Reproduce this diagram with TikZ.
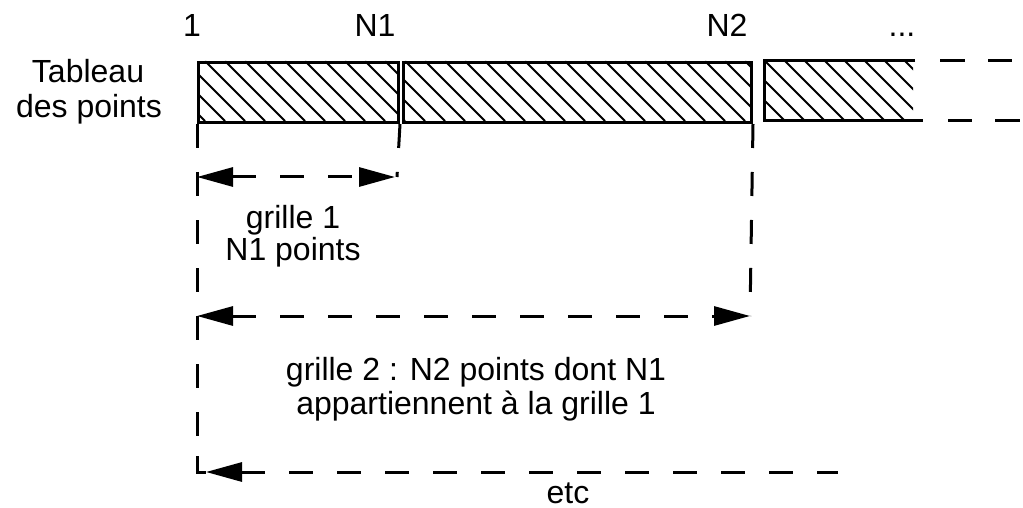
\documentclass[tikz,border=0pt]{standalone}
\usepackage{fontspec}
\setmainfont{Liberation Sans}
\usetikzlibrary{arrows.meta}
\begin{document}
\begin{tikzpicture}[x=1pt,y=-1pt,
  lbl/.style={font=\fontsize{32}{38}\selectfont, inner sep=0pt, anchor=base},
  boxline/.style={line width=3pt},
  hatchline/.style={line width=1.8pt},
  dashline/.style={line width=3pt, dash pattern=on 24pt off 24pt},
  dimarrow/.style={dashline, {Triangle[length=36pt,width=19pt]}-{Triangle[length=36pt,width=19pt]}},
  leftarrow/.style={dashline, {Triangle[length=36pt,width=19pt]}-},
  cell/.style={draw, boxline, inner sep=0pt, anchor=north west, minimum height=60pt},
]
\useasboundingbox (0,0) rectangle (1023,508);
% labels
\node[lbl] (t1) at (88,83) {Tableau};
\node[lbl] (t2) at (89,118) {des points};
\node[lbl] (n0) at (192,37) {1};
\node[lbl] (n1) at (375,37) {N1};
\node[lbl] (n2) at (727,37) {N2};
\node[lbl] (dots) at (902,37) {...};
\node[lbl] (g1a) at (293,228) {grille 1};
\node[lbl] (g1b) at (293,260) {N1 points};
\node[lbl] (g2a) at (476,380) {grille 2 : N2 points dont N1};
\node[lbl] (g2b) at (476,414) {appartiennent à la grille 1};
\node[lbl] (etc) at (568,503) {etc};
% hatching
\begin{scope}
  \clip (197,61) rectangle (397,121) (402,61) rectangle (750,121) (764,61) rectangle (913,121);
  \foreach \c in {64,84,...,864} { \draw[hatchline] (\c+61,61) -- (\c+121,121); }
\end{scope}
% boxes
\node[cell, minimum width=200pt] (b1) at (197,61) {};
\node[cell, minimum width=348pt] (b2) at (402,61) {};
\coordinate (b3ne) at (915,61);
\coordinate (b3nw) at (764,61);
\coordinate (b3sw) at (764,121);
\coordinate (b3se) at (923,121);
\draw[boxline] (b3ne) -- (b3nw) -- (b3sw) -- (b3se);
\coordinate (d1a) at (940,61); \coordinate (d1b) at (965,61);
\coordinate (d2a) at (988,61); \coordinate (d2b) at (1012,61);
\coordinate (d3a) at (948,121); \coordinate (d3b) at (972,121);
\coordinate (d4a) at (995,121); \coordinate (d4b) at (1020,121);
\draw[boxline] (d1a) -- (d1b) (d2a) -- (d2b) (d3a) -- (d3b) (d4a) -- (d4b);
% dimension lines
\coordinate (a1l) at (197,177); \coordinate (a1r) at (395,177);
\coordinate (a2l) at (197,316); \coordinate (a2r) at (750,316);
\coordinate (corner) at (197,472); \coordinate (a3l) at (206,472); \coordinate (a3r) at (838,472);
\coordinate (v2b) at (397,177); \coordinate (v3b) at (750,316);
\draw[dashline] (b1.south west) -- (197,452);
\draw[boxline] (197,456) -- (corner) -- (a3l);
\draw[dashline] (b1.south east) -- (v2b);
\draw[dashline] (b2.south east) -- (v3b);
\draw[dimarrow] (a1l) -- (a1r);
\draw[dimarrow] (a2l) -- (a2r);
\draw[leftarrow] (a3l) -- (a3r);
\end{tikzpicture}
\end{document}
